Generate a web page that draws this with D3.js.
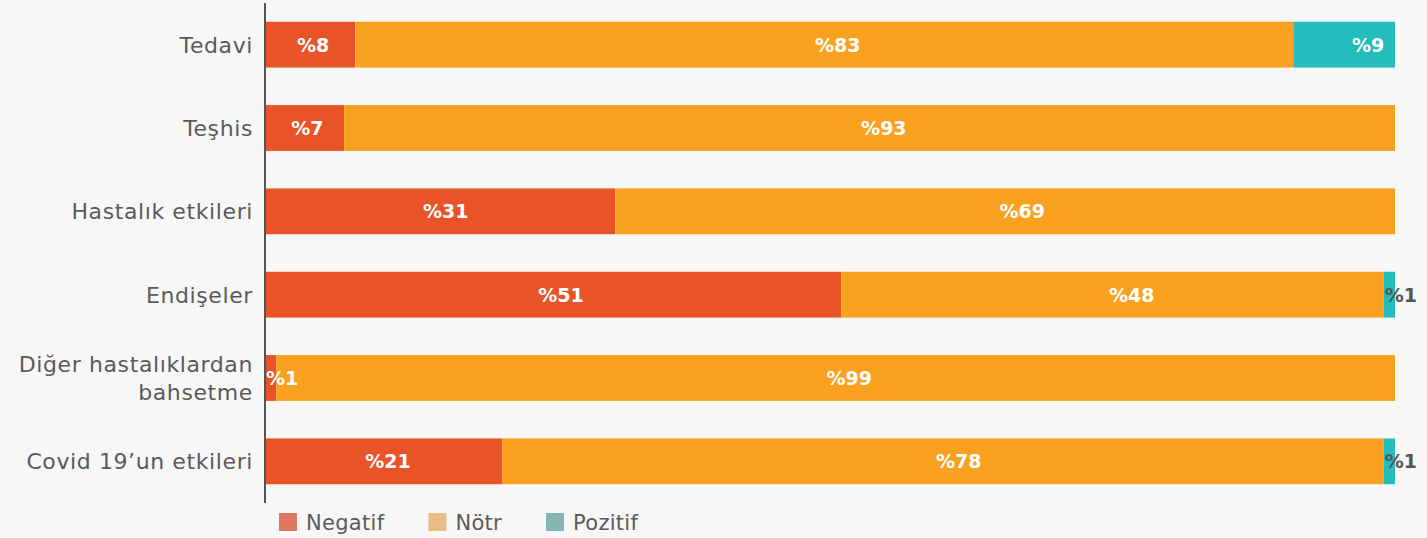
<!DOCTYPE html>
<html>
<head>
<meta charset="utf-8">
<script src="https://cdn.jsdelivr.net/npm/d3@7"></script>
<style>
  body { margin: 0; background: #f6f7f6; }
  svg { display: block; font-family: "DejaVu Sans", sans-serif; }
</style>
</head>
<body>
<svg></svg>
<script>
// categories, top to bottom
var categories = ["Tedavi", "Teşhis", "Hastalık etkileri", "Endişeler", "Diğer hastalıklardan\nbahsetme", "Covid 19’un etkileri"];
var seriesNames = ["Negatif", "Nötr", "Pozitif"];
var negatif = [8, 7, 31, 51, 1, 21];
var notr = [83, 93, 69, 48, 99, 78];
var pozitif = [9, 0, 0, 1, 0, 1];

var barColors = ["#e85427", "#faa21f", "#25bcbd"];
var legendColors = ["#e07760", "#e8bc84", "#86b5b3"];

var svgWidth = 1427;
var svgHeight = 538;
var margin = { top: 3, right: 32, bottom: 35, left: 265 };

var svg = d3.select('svg')
	.attr('width', svgWidth)
	.attr('height', svgHeight);

// build rows with stacked offsets
var rows = categories.map(function(c, i) {
	return { name: c, Negatif: negatif[i], "Nötr": notr[i], Pozitif: pozitif[i] };
});
var stacked = d3.stack().keys(seriesNames)(rows);

var x = d3.scaleLinear()
	.domain([0, 100])
	.range([margin.left, svgWidth - margin.right]);

// labels sit on a slightly wider scale than the bars (as in the original)
var xLabel = d3.scaleLinear()
	.domain([0, 100])
	.range([margin.left + 2, margin.left + 2 + 1153]);

var y = d3.scaleBand()
	.domain(categories)
	.range([margin.top, svgHeight - margin.bottom])
	.paddingInner(0.45)
	.paddingOuter(0.225);

// bars
stacked.forEach(function(s, si) {
	svg.append('g')
		.attr('fill', barColors[si])
	.selectAll('rect')
	.data(s.filter(function(d) { return d[1] - d[0] > 0; }))
	.enter().append('rect')
		.attr('x', function(d) { return x(d[0]); })
		.attr('y', function(d) { return y(d.data.name); })
		.attr('width', function(d) { return x(d[1]) - x(d[0]); })
		.attr('height', y.bandwidth());
});

// value labels
stacked.forEach(function(s, si) {
	svg.append('g')
	.selectAll('text')
	.data(s.filter(function(d) { return d[1] - d[0] > 0; }))
	.enter().append('text')
		.attr('font-weight', 'bold')
		.attr('font-size', '19px')
		.attr('dy', '0.36em')
		.attr('y', function(d) { return y(d.data.name) + y.bandwidth() / 2; })
		.each(function(d) {
			var t = d3.select(this);
			var small = (d[1] - d[0]) < 3;
			if (small) {
				t.attr('x', x(d[0]) + 1)
					.attr('text-anchor', 'start')
					.attr('fill', si == 2 ? '#555' : '#fff');
			} else {
				t.attr('x', xLabel((d[0] + d[1]) / 2))
					.attr('text-anchor', 'middle')
					.attr('fill', '#fff');
			}
		})
		.text(function(d) { return '%' + (d[1] - d[0]); });
});

// y axis line
svg.append('line')
	.attr('x1', margin.left).attr('x2', margin.left)
	.attr('y1', margin.top).attr('y2', svgHeight - margin.bottom)
	.attr('stroke', '#555')
	.attr('stroke-width', 2);

// category labels
categories.forEach(function(c) {
	var lines = c.split('\n');
	var cy = y(c) + y.bandwidth() / 2;
	var lh = 28;
	var t = svg.append('text')
		.attr('text-anchor', 'end')
		.attr('fill', '#5a5a5a')
		.attr('font-size', '22px')
		.attr('letter-spacing', '0.6px');
	lines.forEach(function(l, li) {
		t.append('tspan')
			.attr('x', margin.left - 12)
			.attr('y', cy + (li - (lines.length - 1) / 2) * lh)
			.attr('dy', '0.36em')
			.text(l);
	});
});

// legend
var lx = margin.left + 14;
var ly = 513;
seriesNames.forEach(function(n, i) {
	svg.append('rect')
		.attr('x', lx).attr('y', ly)
		.attr('width', 18).attr('height', 18)
		.attr('fill', legendColors[i]);
	var t = svg.append('text')
		.attr('x', lx + 27)
		.attr('y', ly + 9)
		.attr('dy', '0.36em')
		.attr('fill', '#5a5a5a')
		.attr('font-size', '21px')
		.attr('letter-spacing', '0.3px')
		.text(n);
	lx += 27 + t.node().getComputedTextLength() + 44;
});
</script>
</body>
</html>
